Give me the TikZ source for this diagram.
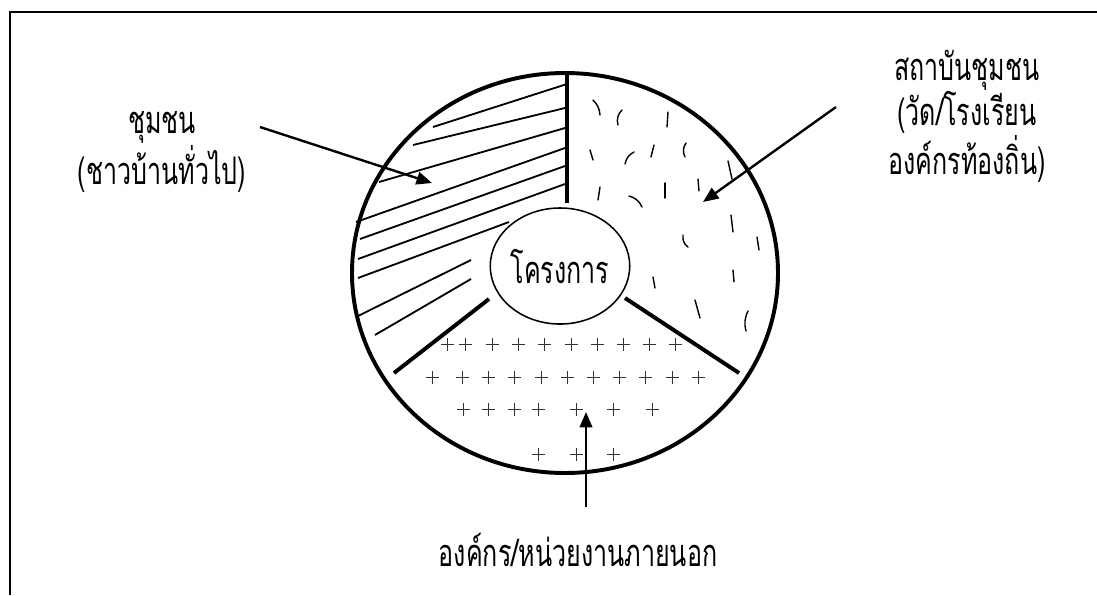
\documentclass[tikz,border=0pt]{standalone}
\usepackage{fontspec}
\newfontfamily\thaifont[Script=Thai, FakeStretch=0.66]{Loma}
\usetikzlibrary{arrows.meta,shapes.geometric}

\begin{document}
\begin{tikzpicture}[
  x=0.025cm, y=-0.025cm,
  font=\thaifont\fontsize{27}{32}\selectfont,
  lab/.style={align=center, inner sep=0pt},
  rim/.style={line width=2.8pt},
  part/.style={line width=2.8pt},
  hatch/.style={line width=1.3pt},
  speck/.style={line width=1pt, line cap=round},
  plus/.style={line width=0.7pt, black!80},
  arr/.style={-{Triangle[length=11pt,width=9pt]}, line width=1.7pt}
]
\useasboundingbox (0,0) rectangle (1097,595);
\draw[line width=1.8pt] (10,595) -- (10,12) -- (1097,12);

\draw[rim] (565,273) ellipse [x radius=213, y radius=200];
\node[ellipse, draw, line width=1.1pt, inner sep=0pt,
  minimum width=3.225cm, minimum height=2.9cm] (proj) at (560,266) {โครงการ};

\draw[part] (567,73) -- (567,203);
\draw[part] (489,299) -- (394,373);
\draw[part] (625,298) -- (739,373);

\foreach \a/\b/\c/\d in {433/127/567/84, 413/145/565/108, 379/182/565/128,
    356/222/565/148, 360/239/565/166, 358/259/565/184, 358/278/509/222,
    356/317/471/260, 375/335/471/279}
  \draw[hatch] (\a,\b) -- (\c,\d);

\foreach \a/\b/\c/\d/\e in {593/100/600/115/20, 622/110/618/125/-30,
    668/112/667/127/0, 590/150/593/160/0, 634/152/625/164/-25,
    654/145/651/157/0, 686/143/685/157/-30, 728/161/732/179/0,
    600/187/598/200/0, 629/196/642/207/25, 665/183/665/198/0,
    698/179/699/191/0, 731/215/733/232/0, 683/235/688/247/-30,
    757/237/759/250/0, 733/270/734/282/0, 653/277/655/288/0,
    695/300/700/318/0, 748/311/746/331/-20}
  \draw[speck] (\a,\b) to[bend left=\e] (\c,\d);

\foreach \y/\xs in {344/{447,465,492,518,544,571,597,623,649,675},
    377/{432,462,488,514,541,567,593,619,645,672,698},
    409/{463,488,514,538,576,613,652},
    454/{538,576,613}}
  \foreach \x in \xs
    \draw[plus] (\x-6.5,\y) -- (\x+6.5,\y) (\x,\y-6.5) -- (\x,\y+6.5);

\node[lab] (comm) at (162,152) {ชุมชน\\(ชาวบ้านทั่วไป)};
\node[lab, font=\thaifont\fontsize{27}{28.4}\selectfont] (inst) at (967,116)
  {สถาบันชุมชน\\(วัด/โรงเรียน\\องค์กรท้องถิ่น)};
\node[lab] (ext) at (578,550) {องค์กร/หน่วยงานภายนอก};

\coordinate (c1) at (260,127);
\coordinate (t1) at (432,183);
\coordinate (c2) at (836,107);
\coordinate (t2) at (703,202);
\coordinate (c3) at (586,507);
\coordinate (t3) at (586,412);
\draw[arr] (c1) -- (t1);
\draw[arr] (c2) -- (t2);
\draw[arr] (c3) -- (t3);
\end{tikzpicture}
\end{document}
